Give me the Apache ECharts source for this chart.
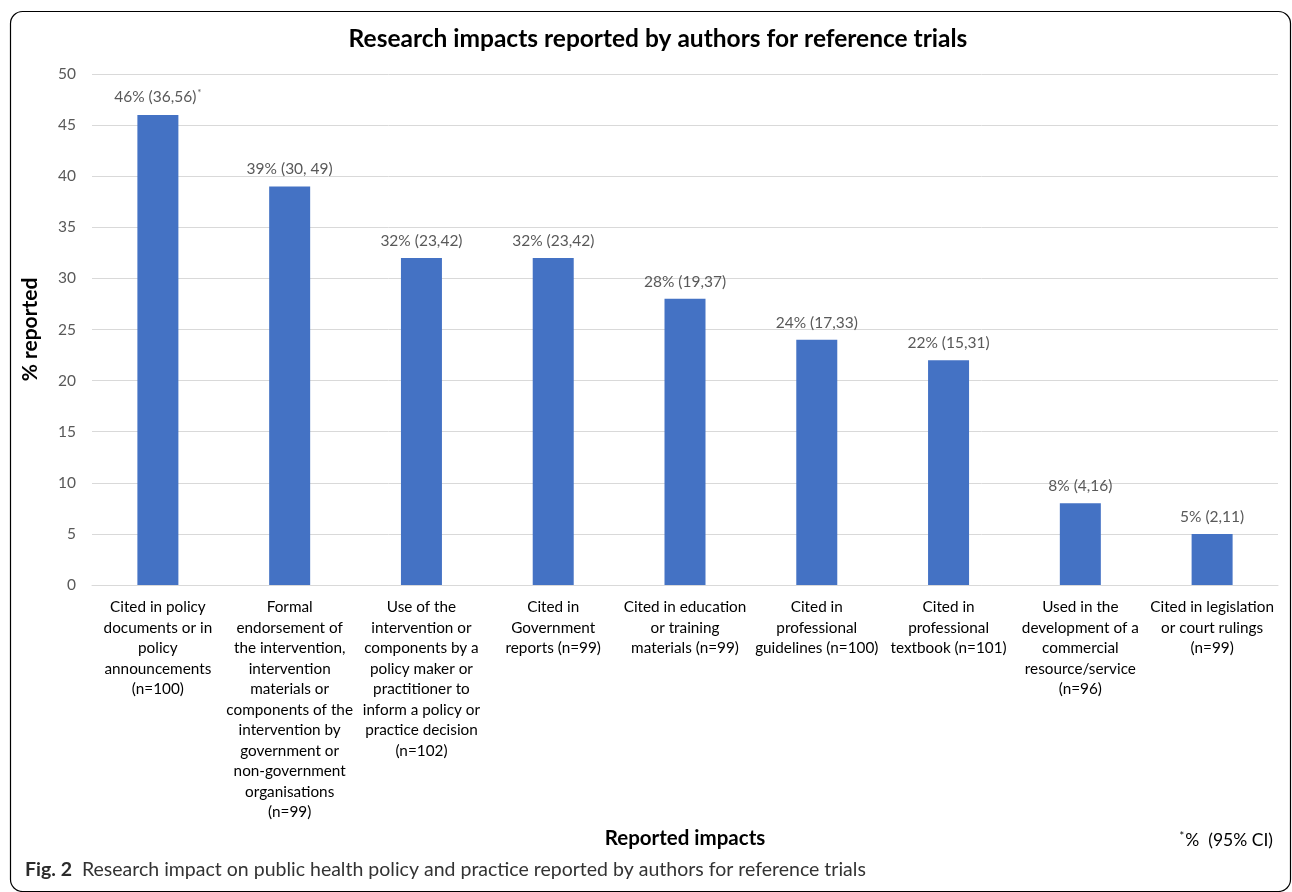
<!DOCTYPE html>
<html>
<head>
<meta charset="utf-8">
<script src="https://cdn.jsdelivr.net/npm/echarts@6/dist/echarts.min.js"></script>
<style>
html, body { margin: 0; padding: 0; background: #fff; }
#chart { width: 1292px; height: 892px; }
</style>
</head>
<body>
<div id="chart"></div>
<script>
var categories = [
    'Cited in policy\ndocuments or in\npolicy\nannouncements\n(n=100)',
    'Formal\nendorsement of\nthe intervention,\nintervention\nmaterials or\ncomponents of the\nintervention by\ngovernment or\nnon-government\norganisations\n(n=99)',
    'Use of the\nintervention or\ncomponents by a\npolicy maker or\npractitioner to\ninform a policy or\npractice decision\n(n=102)',
    'Cited in\nGovernment\nreports (n=99)',
    'Cited in education\nor training\nmaterials (n=99)',
    'Cited in\nprofessional\nguidelines (n=100)',
    'Cited in\nprofessional\ntextbook (n=101)',
    'Used in the\ndevelopment of a\ncommercial\nresource/service\n(n=96)',
    'Cited in legislation\nor court rulings\n(n=99)'
];
var percentValues = [46, 39, 32, 32, 28, 24, 22, 8, 5];
var ciLabels = ['(36,56)', '(30, 49)', '(23,42)', '(23,42)', '(19,37)', '(17,33)', '(15,31)', '(4,16)', '(2,11)'];
var yTicks = [0, 5, 10, 15, 20, 25, 30, 35, 40, 45, 50];

var FONT = 'Lato, "Open Sans", sans-serif';
var myChart = echarts.init(document.getElementById('chart'));

var option = {
    backgroundColor: '#fff',
    animation: false,
    title: {
        text: 'Research impacts reported by authors for reference trials',
        left: 653,
        textAlign: 'center',
        top: 22,
        textStyle: { color: '#000', fontSize: 24.5, fontWeight: 'bold', fontFamily: FONT }
    },
    grid: { left: 92, right: 14, top: 74, bottom: 307 },
    xAxis: {
        type: 'category',
        data: categories,
        name: 'Reported impacts',
        nameLocation: 'middle',
        nameGap: 234,
        nameTextStyle: { color: '#000', fontSize: 20.5, fontWeight: 'bold', fontFamily: FONT },
        axisLine: { lineStyle: { color: '#d9d9d9' } },
        axisTick: { show: false },
        axisLabel: {
            interval: 0,
            color: '#000',
            fontSize: 15.3,
            lineHeight: 20.5,
            margin: 12,
            fontFamily: FONT,
            verticalAlign: 'top'
        }
    },
    yAxis: {
        type: 'value',
        min: yTicks[0],
        max: yTicks[yTicks.length - 1],
        interval: 5,
        name: '% reported',
        nameLocation: 'middle',
        nameGap: 51,
        nameRotate: 90,
        nameTextStyle: { color: '#000', fontSize: 21, fontWeight: 'bold', fontFamily: FONT },
        axisLine: { show: false },
        axisTick: { show: false },
        axisLabel: { color: '#595959', fontSize: 15.5, margin: 16, fontFamily: FONT },
        splitLine: { lineStyle: { color: '#d9d9d9', width: 1 } }
    },
    series: [{
        type: 'bar',
        data: percentValues,
        barWidth: 41,
        itemStyle: { color: '#4472C4' },
        label: {
            show: true,
            position: 'top',
            distance: 9,
            color: '#595959',
            fontSize: 15.5,
            fontFamily: FONT,
            formatter: function (p) {
                var s = p.value + '% ' + ciLabels[p.dataIndex];
                return p.dataIndex === 0 ? s + '{sup|*}' : s;
            },
            rich: {
                sup: { fontSize: 10, color: '#595959', verticalAlign: 'top', padding: [0, 0, 8, 1] }
            }
        }
    }],
    graphic: [
        {
            type: 'rect',
            shape: { x: 10.5, y: 11.5, width: 1280, height: 880, r: 12 },
            style: { fill: 'none', stroke: '#000', lineWidth: 1.2 },
            silent: true
        },
        {
            type: 'text',
            right: 19,
            top: 831,
            style: {
                text: '{s|*}{t|%  (95% CI)}',
                rich: {
                    s: { fontSize: 11, fill: '#000', fontFamily: FONT, verticalAlign: 'top', padding: [0, 1, 8, 0] },
                    t: { fontSize: 17.5, fill: '#000', fontFamily: FONT }
                }
            }
        },
        {
            type: 'text',
            left: 25,
            top: 860,
            style: {
                text: '{b|Fig. 2}{t|Research impact on public health policy and practice reported by authors for reference trials}',
                rich: {
                    b: { fontWeight: 'bold', fontSize: 19.5, fill: '#2b2b2b', fontFamily: FONT, padding: [0, 10, 0, 0] },
                    t: { fontSize: 19.5, fill: '#333', fontFamily: FONT }
                }
            }
        }
    ]
};

myChart.setOption(option);
</script>
</body>
</html>
